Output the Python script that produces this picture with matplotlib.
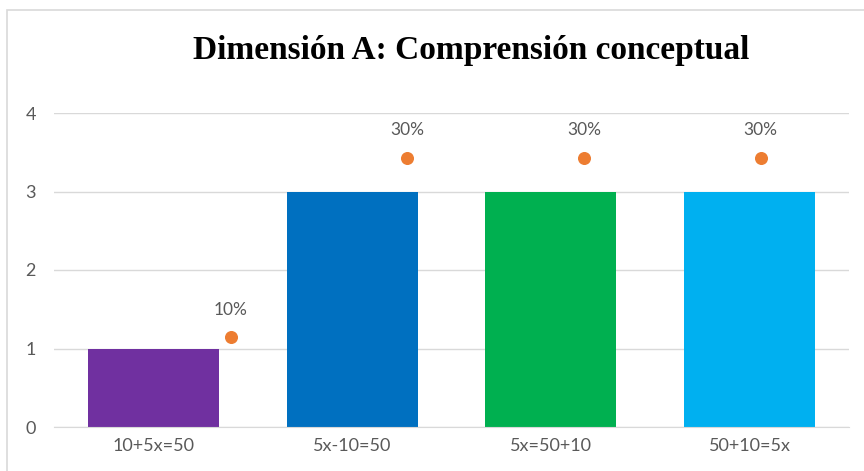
import matplotlib.pyplot as plt
from matplotlib.patches import Rectangle

categories = ["10+5x=50", "5x-10=50", "5x=50+10", "50+10=5x"]
counts = [1, 3, 3, 3]
percents = [0.10, 0.30, 0.30, 0.30]
bar_colors = ["#7030A0", "#0070C0", "#00B050", "#00B0F0"]
title = "Dimensión A: Comprensión conceptual"

W, H = 864, 471
fig = plt.figure(figsize=(W / 100, H / 100), dpi=100)

# chart border (left/top visible, runs off right and bottom)
fig.patches.append(Rectangle((7 / W, -0.1), 1.2, (H - 10) / H + 0.1,
                             transform=fig.transFigure, fill=False,
                             edgecolor="#D9D9D9", linewidth=1.2))

left, right, top, bottom = 54, 849, 113, 427
ax = fig.add_axes([left / W, (H - bottom) / H, (right - left) / W, (bottom - top) / H])

x = range(len(categories))
ax.bar(x, counts, width=0.66, color=bar_colors, zorder=2)
ax.set_xlim(-0.5, len(categories) - 0.5)
ax.set_ylim(0, 4)
ax.set_yticks([0, 1, 2, 3, 4])
ax.set_xticks(list(x))
ax.set_xticklabels(categories)
ax.yaxis.grid(True, color="#D9D9D9", linewidth=1, zorder=0)
for s in ax.spines.values():
    s.set_visible(False)
ax.spines["bottom"].set_visible(True)
ax.spines["bottom"].set_color("#D9D9D9")
ax.tick_params(length=0, labelsize=13, labelcolor="#595959")
ax.tick_params(axis="y", pad=13)
ax.tick_params(axis="x", pad=8)
for lab in ax.get_xticklabels() + ax.get_yticklabels():
    lab.set_fontfamily("Lato")

# percentage series on hidden secondary axes
ax2 = fig.add_axes(ax.get_position(), frameon=False)
ax2.set_xlim(0, 4.5)
ax2.set_ylim(0, 0.35)
px = list(range(1, len(percents) + 1))
ax2.scatter(px, percents, s=70, color="#ED7D31", zorder=3)
for xi, p in zip(px, percents):
    ax2.annotate(f"{p:.0%}", (xi, p), xytext=(0, 14), textcoords="offset points",
                 ha="center", va="bottom", fontsize=12.5, color="#595959",
                 fontfamily="Lato")
ax2.set_xticks([])
ax2.set_yticks([])

fig.text(471 / W, 1 - 50 / H, title, ha="center", va="center",
         fontsize=24, fontweight="bold", fontfamily="Liberation Serif")

fig.savefig("out.png", dpi=100)
